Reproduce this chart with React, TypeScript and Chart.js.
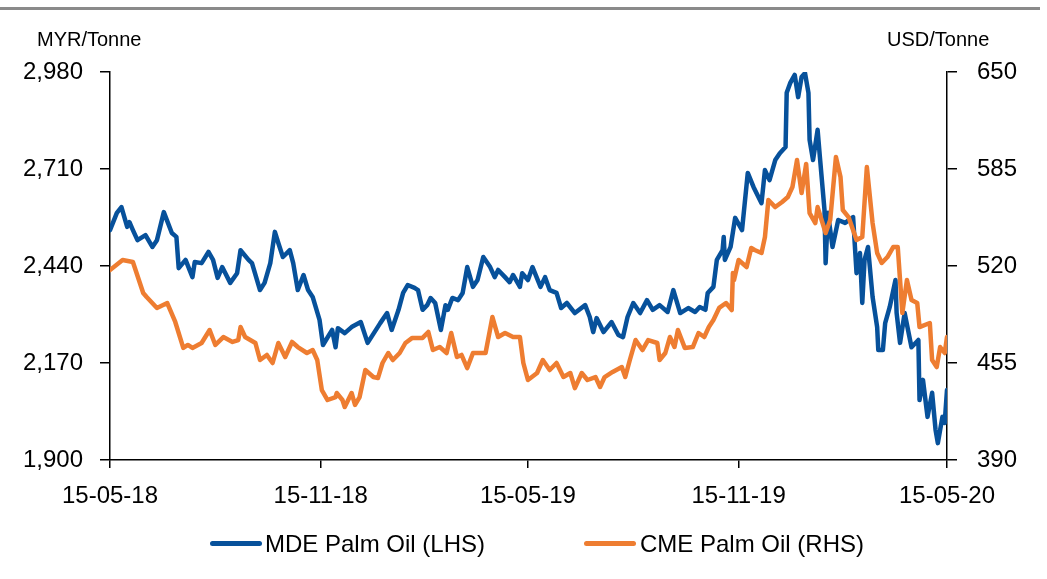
import React, { useEffect, useRef } from 'react';
import { Chart, registerables } from 'chart.js';
Chart.register(...registerables);

const FONT = '"Liberation Sans", Arial, sans-serif';
const BLUE = '#07519B';
const ORANGE = '#EE7D31';

const xTickDays = [0, 184, 365, 549, 731];
const xTickLabels = ['15-05-18', '15-11-18', '15-05-19', '15-11-19', '15-05-20'];
const leftTicks = [1900, 2170, 2440, 2710, 2980];
const rightTicks = [390, 455, 520, 585, 650];
const leftUnit = 'MYR/Tonne';
const rightUnit = 'USD/Tonne';
const seriesNames = ['MDE Palm Oil (LHS)', 'CME Palm Oil (RHS)'];

// days since 15-05-18
const mdeDays = [0, 6, 10, 15, 17, 20, 24, 31, 37, 41, 47, 54, 58, 60, 66, 72, 74, 80, 86, 90, 94, 98, 105, 111, 114, 121, 124, 131, 135, 140, 144, 147, 151, 157, 160, 164, 169, 173, 177, 183, 186, 194, 197, 199, 205, 211, 219, 225, 231, 236, 242, 246, 252, 256, 260, 266, 269, 273, 277, 280, 284, 289, 293, 295, 299, 304, 308, 312, 317, 321, 326, 332, 336, 339, 345, 349, 352, 358, 360, 365, 369, 376, 380, 384, 390, 394, 399, 406, 415, 419, 422, 425, 431, 438, 444, 448, 452, 457, 463, 469, 474, 480, 487, 492, 498, 505, 511, 515, 520, 522, 527, 530, 535, 536, 537, 542, 546, 552, 557, 562, 569, 572, 576, 581, 585, 590, 591, 594, 598, 601, 604, 607, 610, 611, 614, 618, 620, 624, 625, 627, 631, 636, 642, 649, 652, 655, 657, 659, 662, 666, 670, 671, 675, 677, 681, 686, 687, 690, 694, 700, 706, 707, 710, 714, 718, 721, 723, 727, 729, 731];
const mdeValues = [2540, 2588, 2604, 2549, 2562, 2540, 2512, 2526, 2493, 2512, 2590, 2532, 2521, 2434, 2457, 2409, 2451, 2448, 2479, 2457, 2407, 2437, 2393, 2420, 2484, 2457, 2448, 2373, 2393, 2448, 2535, 2504, 2465, 2484, 2448, 2373, 2415, 2373, 2354, 2290, 2220, 2262, 2214, 2267, 2253, 2270, 2284, 2226, 2256, 2281, 2309, 2262, 2318, 2365, 2387, 2379, 2373, 2318, 2331, 2351, 2337, 2262, 2331, 2318, 2351, 2345, 2365, 2437, 2382, 2401, 2465, 2437, 2409, 2429, 2409, 2395, 2415, 2382, 2420, 2401, 2437, 2382, 2409, 2373, 2365, 2323, 2337, 2309, 2331, 2298, 2256, 2295, 2256, 2284, 2248, 2242, 2298, 2337, 2309, 2345, 2318, 2331, 2312, 2373, 2309, 2323, 2312, 2326, 2318, 2365, 2382, 2457, 2484, 2521, 2457, 2493, 2574, 2540, 2699, 2660, 2615, 2707, 2679, 2735, 2754, 2771, 2922, 2949, 2972, 2910, 2966, 2977, 2922, 2791, 2735, 2819, 2743, 2596, 2448, 2588, 2493, 2568, 2560, 2576, 2420, 2476, 2337, 2457, 2493, 2354, 2270, 2206, 2206, 2281, 2326, 2401, 2309, 2226, 2309, 2214, 2234, 2067, 2123, 2020, 2087, 1984, 1947, 2020, 2003, 2095];

const cmeDays = [0, 11, 20, 29, 32, 41, 50, 57, 64, 68, 72, 80, 87, 92, 99, 107, 112, 114, 118, 127, 131, 137, 142, 147, 153, 159, 164, 172, 177, 181, 185, 190, 197, 198, 203, 205, 211, 214, 218, 223, 230, 234, 238, 243, 247, 253, 258, 264, 273, 278, 282, 288, 294, 298, 303, 307, 312, 317, 328, 334, 339, 345, 352, 358, 361, 365, 373, 378, 384, 390, 396, 402, 406, 412, 417, 424, 428, 432, 439, 447, 450, 454, 459, 465, 470, 478, 480, 485, 489, 493, 496, 502, 509, 514, 519, 523, 527, 532, 538, 543, 544, 545, 549, 556, 560, 563, 569, 572, 575, 581, 587, 592, 596, 600, 604, 608, 611, 616, 618, 625, 629, 634, 638, 640, 645, 652, 657, 661, 666, 670, 674, 679, 684, 688, 692, 696, 700, 705, 707, 716, 718, 722, 725, 729, 731];
const cmeValues = [517.3, 524.0, 522.7, 501.9, 499.2, 491.9, 495.2, 482.5, 465.1, 467.1, 465.1, 468.4, 477.1, 467.1, 472.4, 469.1, 470.4, 479.1, 472.4, 468.4, 457.0, 460.4, 455.0, 468.4, 459.0, 469.1, 465.7, 461.7, 463.7, 457.0, 436.9, 430.2, 432.2, 434.9, 430.2, 425.5, 434.9, 426.9, 432.2, 450.3, 445.6, 444.9, 455.0, 461.7, 457.0, 461.7, 468.4, 471.8, 471.8, 475.8, 463.7, 465.7, 461.7, 475.1, 459.0, 460.4, 451.6, 461.7, 461.7, 485.8, 472.4, 475.1, 472.4, 472.4, 455.0, 443.6, 448.3, 457.0, 450.3, 455.0, 445.6, 448.3, 438.2, 448.3, 443.6, 445.6, 438.9, 445.6, 449.0, 452.3, 445.6, 457.0, 470.4, 463.7, 470.4, 468.4, 457.0, 461.7, 472.4, 465.7, 477.1, 465.1, 465.7, 475.1, 472.4, 479.1, 483.8, 491.9, 495.2, 490.5, 515.3, 510.6, 524.0, 519.3, 532.1, 530.7, 528.7, 539.4, 564.2, 559.5, 562.9, 566.2, 572.9, 591.0, 568.9, 588.4, 555.5, 548.8, 559.5, 542.1, 550.8, 593.0, 579.6, 557.5, 552.8, 537.4, 539.4, 586.3, 548.8, 528.7, 522.0, 526.0, 532.7, 532.7, 488.5, 510.6, 497.2, 495.2, 479.1, 481.8, 457.0, 452.3, 465.7, 461.7, 472.4];

const toPoints = (xs: number[], ys: number[]) => xs.map((x, i) => ({ x, y: ys[i] }));

export default function App() {
  const ref = useRef<HTMLCanvasElement | null>(null);

  useEffect(() => {
    if (!ref.current) return;
    const tickFont = { family: FONT, size: 24 };
    const lineStyle = {
      borderWidth: 4.5,
      pointRadius: 0,
      tension: 0,
      borderJoinStyle: 'round',
      borderCapStyle: 'round',
    };
    const chart = new Chart(ref.current, {
      type: 'line',
      data: {
        datasets: [
          {
            ...lineStyle,
            label: seriesNames[0],
            data: toPoints(mdeDays, mdeValues),
            borderColor: BLUE,
            backgroundColor: BLUE,
            yAxisID: 'yL',
            order: 1,
          },
          {
            ...lineStyle,
            label: seriesNames[1],
            data: toPoints(cmeDays, cmeValues),
            borderColor: ORANGE,
            backgroundColor: ORANGE,
            yAxisID: 'yR',
            order: 0,
          },
        ],
      },
      options: {
        responsive: false,
        animation: false,
        events: [],
        layout: { padding: { top: 72, left: 0, right: 0, bottom: 0 } },
        plugins: { legend: { display: false }, tooltip: { enabled: false }, title: { display: false } },
        scales: {
          x: {
            type: 'linear',
            min: xTickDays[0],
            max: xTickDays[xTickDays.length - 1],
            afterBuildTicks: (s: any) => { s.ticks = xTickDays.map((v) => ({ value: v })); },
            afterFit: (s: any) => { s.height = 119; },
            grid: { drawOnChartArea: false, drawTicks: true, tickLength: 8, color: '#000', lineWidth: 1.5 },
            border: { display: true, color: '#000', width: 1.5 },
            ticks: {
              autoSkip: false,
              maxRotation: 0,
              color: '#000',
              font: tickFont,
              padding: 14,
              callback: (_v: any, i: number) => xTickLabels[i],
            },
          },
          yL: {
            type: 'linear',
            position: 'left',
            min: leftTicks[0],
            max: leftTicks[leftTicks.length - 1],
            afterBuildTicks: (s: any) => { s.ticks = leftTicks.map((v) => ({ value: v })); },
            afterFit: (s: any) => { s.width = 110; },
            grid: { drawOnChartArea: false, drawTicks: true, tickLength: 10, color: '#000', lineWidth: 1.5 },
            border: { display: true, color: '#000', width: 1.5 },
            ticks: {
              color: '#000',
              font: tickFont,
              padding: 17,
              callback: (v: any) => Number(v).toLocaleString('en-US'),
            },
          },
          yR: {
            type: 'linear',
            position: 'right',
            min: rightTicks[0],
            max: rightTicks[rightTicks.length - 1],
            afterBuildTicks: (s: any) => { s.ticks = rightTicks.map((v) => ({ value: v })); },
            afterFit: (s: any) => { s.width = 100; },
            grid: { drawOnChartArea: false, drawTicks: true, tickLength: 10, color: '#000', lineWidth: 1.5 },
            border: { display: true, color: '#000', width: 1.5 },
            ticks: {
              color: '#000',
              font: tickFont,
              padding: 20,
              callback: (v: any) => Number(v).toLocaleString('en-US'),
            },
          },
        },
      },
    } as any);
    return () => chart.destroy();
  }, []);

  const textBase: React.CSSProperties = {
    position: 'absolute',
    fontFamily: FONT,
    color: '#000',
    whiteSpace: 'nowrap',
  };

  return (
    <div style={{ position: 'fixed', left: 0, top: 0, width: 1047, height: 579, background: '#fff', overflow: 'hidden' }}>
      <div style={{ position: 'absolute', left: 0, top: 7, width: 1040, height: 3, background: '#8a8a8a' }} />
      <canvas ref={ref} width={1047} height={579} style={{ position: 'absolute', left: 0, top: 0, width: 1047, height: 579 }} />
      <div style={{ ...textBase, left: 37, top: 29, fontSize: 20, lineHeight: '20px' }}>{leftUnit}</div>
      <div style={{ ...textBase, left: 887, top: 29, fontSize: 20, lineHeight: '20px' }}>{rightUnit}</div>
      <div style={{ position: 'absolute', left: 210, top: 541, width: 52, height: 5, background: BLUE, borderRadius: 3 }} />
      <div style={{ ...textBase, left: 265, top: 532, fontSize: 24, lineHeight: '24px' }}>{seriesNames[0]}</div>
      <div style={{ position: 'absolute', left: 584, top: 541, width: 52, height: 5, background: ORANGE, borderRadius: 3 }} />
      <div style={{ ...textBase, left: 640, top: 532, fontSize: 24, lineHeight: '24px' }}>{seriesNames[1]}</div>
    </div>
  );
}
